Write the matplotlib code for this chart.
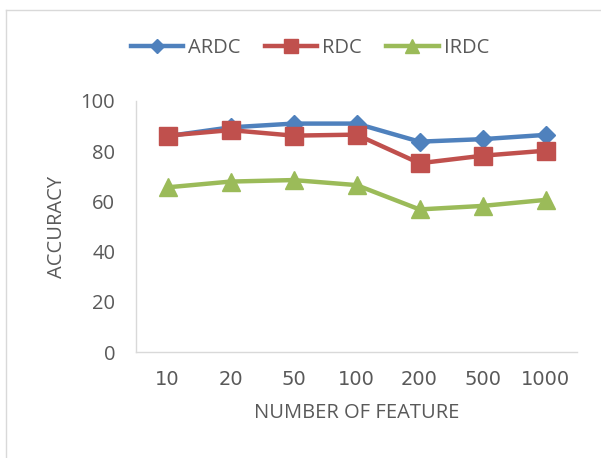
import matplotlib
matplotlib.use("Agg")
import matplotlib.pyplot as plt
from matplotlib.lines import Line2D

categories = ["10", "20", "50", "100", "200", "500", "1000"]
ardc = [86.0, 89.5, 91.0, 91.0, 83.8, 84.8, 86.5]
rdc = [86.2, 88.4, 86.2, 86.6, 75.2, 78.2, 80.2]
irdc = [65.6, 67.9, 68.5, 66.5, 56.8, 58.2, 60.6]
yticks = [0, 20, 40, 60, 80, 100]

text_color = "#595959"
plt.rcParams['font.family'] = ['Open Sans', 'DejaVu Sans']

fig = plt.figure(figsize=(6.01, 4.58), dpi=100)
ax = fig.add_axes([136/601, 1-352/458, 441/601, 251/458])

x = list(range(len(categories)))
lw = 3.2
ax.plot(x, ardc, color="#4F81BD", lw=lw, marker="D", markersize=9.5, label="ARDC", zorder=3)
ax.plot(x, rdc, color="#C0504D", lw=lw, marker="s", markersize=13, label="RDC", zorder=4)
ax.plot(x, irdc, color="#9BBB59", lw=lw, marker="^", markersize=13, label="IRDC", zorder=3)

ax.set_xlim(-0.5, len(categories)-0.5)
ax.set_ylim(0, 100)
ax.set_yticks(yticks)
ax.set_yticklabels([str(v) for v in yticks], fontsize=14.5, color=text_color)
ax.set_xticks(x)
ax.set_xticklabels(categories, fontsize=14, color=text_color, family=['DejaVu Sans'])
ax.tick_params(axis='both', length=0)
ax.tick_params(axis='y', pad=15)
ax.tick_params(axis='x', pad=13)
for s in ['top', 'right']:
    ax.spines[s].set_visible(False)
for s in ['left', 'bottom']:
    ax.spines[s].set_color("#D9D9D9")
    ax.spines[s].set_linewidth(1.0)

ax.set_ylabel("ACCURACY", fontsize=14.5, color=text_color, labelpad=10)
ax.set_xlabel("NUMBER OF FEATURE", fontsize=14.5, color=text_color, labelpad=10)

fig.legend(loc="center", bbox_to_anchor=(310/601, 1-48/458), ncol=3, frameon=False,
           fontsize=14.5, handlelength=2.6, handletextpad=0.25, columnspacing=1.2,
           labelcolor=text_color, markerscale=0.8)

# outer chart frame
fig.add_artist(Line2D([6/601, 6/601], [0, 1-10/458], transform=fig.transFigure, color="#D9D9D9", lw=1))
fig.add_artist(Line2D([6/601, 1], [1-10/458, 1-10/458], transform=fig.transFigure, color="#D9D9D9", lw=1))

fig.savefig("out.png", dpi=100)
